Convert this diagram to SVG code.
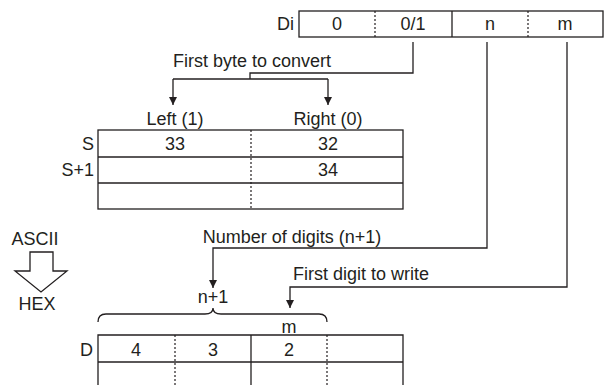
<svg xmlns="http://www.w3.org/2000/svg" width="605" height="385" viewBox="0 0 605 385">
<style>
text{font-family:"Liberation Sans",Arial,sans-serif;font-size:18px;fill:#231f20}
.c{text-anchor:middle}
.r{text-anchor:end}
.box{fill:#fff;stroke:#231f20;stroke-width:1.3}
.ln{fill:none;stroke:#231f20;stroke-width:1.3}
.dot{fill:none;stroke:#231f20;stroke-width:1.2;stroke-dasharray:2 2}
.con{fill:none;stroke:#231f20;stroke-width:1.3}
</style>
<defs>
<marker id="ah" viewBox="0 0 8 10" refX="8" refY="5" markerWidth="8" markerHeight="10" markerUnits="userSpaceOnUse" orient="auto">
<path d="M0,1 L8,5 L0,9 Z" fill="#231f20"/>
</marker>
</defs>
<g id="di">
<text class="r" x="294" y="30">Di</text>
<rect class="box" x="299" y="11" width="304" height="26"/>
<line class="dot" x1="375" y1="11" x2="375" y2="37"/>
<line class="ln" x1="452" y1="11" x2="452" y2="37"/>
<line class="dot" x1="528" y1="11" x2="528" y2="37"/>
<text class="c" x="337" y="30">0</text>
<text class="c" x="413" y="30">0/1</text>
<text class="c" x="490" y="30">n</text>
<text class="c" x="565" y="30">m</text>
</g>
<g id="s">
<text class="c" x="175" y="125">Left (1)</text>
<text class="c" x="328" y="125">Right (0)</text>
<text class="r" x="94" y="150">S</text>
<text class="r" x="94" y="176">S+1</text>
<rect class="box" x="98" y="130" width="305" height="79"/>
<line class="ln" x1="98" y1="157" x2="403" y2="157" stroke-width="2"/>
<line class="ln" x1="98" y1="183" x2="403" y2="183" stroke-width="2"/>
<line class="dot" x1="251" y1="130" x2="251" y2="209"/>
<text class="c" x="175" y="150">33</text>
<text class="c" x="328" y="150">32</text>
<text class="c" x="328" y="176">34</text>
</g>
<g id="conv">
<text class="c" x="35" y="245">ASCII</text>
<polygon class="box" points="30,252 53,252 53,271 67,271 41,292 15,271 30,271"/>
<text class="c" x="37" y="310">HEX</text>
</g>
<g id="d">
<text class="c" x="213" y="303">n+1</text>
<path class="ln" d="M98,322 Q98,314 106,314 L205,314 Q213,314 213,308 Q213,314 221,314 L319,314 Q327,314 327,322"/>
<text class="c" x="289" y="333">m</text>
<text class="r" x="93" y="356">D</text>
<path class="ln" d="M98,385 L98,335 L403,335 L403,385"/>
<line class="ln" x1="98" y1="362" x2="403" y2="362"/>
<line class="ln" x1="251" y1="335" x2="251" y2="385"/>
<line class="dot" x1="175" y1="335" x2="175" y2="385"/>
<line class="dot" x1="327" y1="335" x2="327" y2="385"/>
<text class="c" x="136" y="356">4</text>
<text class="c" x="213" y="356">3</text>
<text class="c" x="289" y="356">2</text>
</g>
<g id="connectors">
<text class="c" x="252" y="67">First byte to convert</text>
<path class="con" d="M413,42 L413,73 L250,73 L250,79"/>
<path class="con" d="M173,79 L328,79"/>
<path class="con" d="M173,79 L173,105" marker-end="url(#ah)"/>
<path class="con" d="M328,79 L328,105" marker-end="url(#ah)"/>
<text class="c" x="292" y="243">Number of digits (n+1)</text>
<path class="con" d="M487,42 L487,248 L213,248 L213,288" marker-end="url(#ah)"/>
<text class="c" x="361" y="280">First digit to write</text>
<path class="con" d="M567,42 L567,287 L290,287 L290,308" marker-end="url(#ah)"/>
</g>
</svg>
